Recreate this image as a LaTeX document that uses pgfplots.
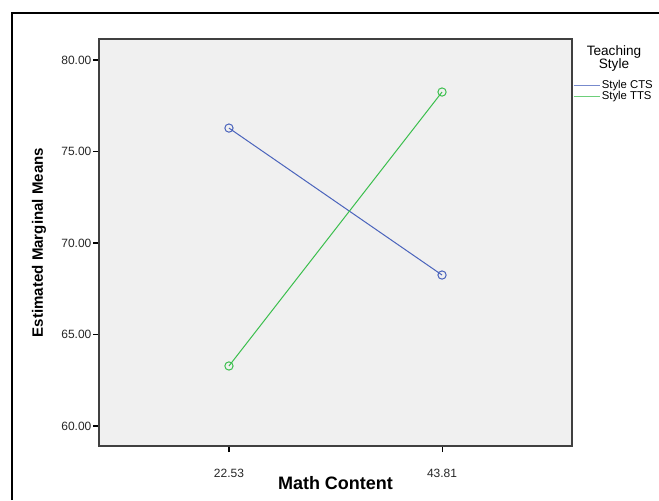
\documentclass[border=0pt]{standalone}
\usepackage{pgfplots}
\pgfplotsset{compat=1.18}
\usepackage{fontspec}
\setmainfont{Liberation Sans}
\definecolor{ctsblue}{HTML}{4A63BC}
\definecolor{ttsgreen}{HTML}{3CBF4E}
\definecolor{plotbg}{HTML}{F0F0F0}
\definecolor{framegray}{HTML}{404040}
\begin{document}
\begin{tikzpicture}[x=0.75pt,y=0.75pt]
\useasboundingbox (0,0) rectangle (659,500);
\draw[line width=1.2pt,black] (12,0) -- (12,487) -- (659,487);
\begin{axis}[
  at={(74.25pt,40.5pt)}, anchor=south west,
  scale only axis, width=354.75pt, height=305.25pt,
  xmin=-0.61, xmax=1.61, ymin=58.907, ymax=81.148,
  axis background/.style={fill=plotbg},
  axis line style={framegray, line width=1pt},
  xtick={0,1}, xticklabels={22.53,43.81},
  ytick={60,65,70,75,80},
  /pgf/number format/fixed, /pgf/number format/fixed zerofill, /pgf/number format/precision=2,
  /pgf/number format/assume math mode=true,
  tick align=outside, major tick length=4.5pt,
  tick style={black, line width=0.8pt},
  xtick pos=bottom, ytick pos=left,
  ticklabel style={font=\fontsize{9}{10}\selectfont, color=black!85},
  yticklabel style={inner sep=1pt},
  xticklabel style={yshift=-9pt},
  xlabel={Math Content},
  ylabel={Estimated Marginal Means},
  xlabel style={font=\fontsize{13.5}{15}\selectfont\bfseries, at={(axis description cs:0.5,0)}, anchor=center, yshift=-28.1pt},
  ylabel style={font=\fontsize{11.3}{13}\selectfont\bfseries, at={(axis description cs:0,0.5)}, anchor=center, yshift=45pt},
  legend style={at={(rel axis cs:1.0021,0.9017)}, anchor=north west, draw=none, fill=none,
    inner sep=0pt, outer sep=0pt, font=\fontsize{8.5}{9}\selectfont, row sep=-1.5pt,
    nodes={inner sep=1pt}},
  legend cell align=left,
  legend image code/.code={\draw[#1, line width=1.1pt, opacity=0.75] (0pt,0pt) -- (19.5pt,0pt);},
  every axis plot/.append style={line width=0.75pt, mark=o, mark size=3.1pt, mark options={solid, line width=0.75pt}},
]
\addplot[ctsblue] coordinates {(0,76.28) (1,68.25)};
\addlegendentry{Style CTS}
\addplot[ttsgreen] coordinates {(0,63.28) (1,78.25)};
\addlegendentry{Style TTS}
\end{axis}
\node[align=center, font=\fontsize{10.2}{9.75}\selectfont, inner sep=0pt] at (614,441.5) {Teaching\\Style};
\end{tikzpicture}
\end{document}
